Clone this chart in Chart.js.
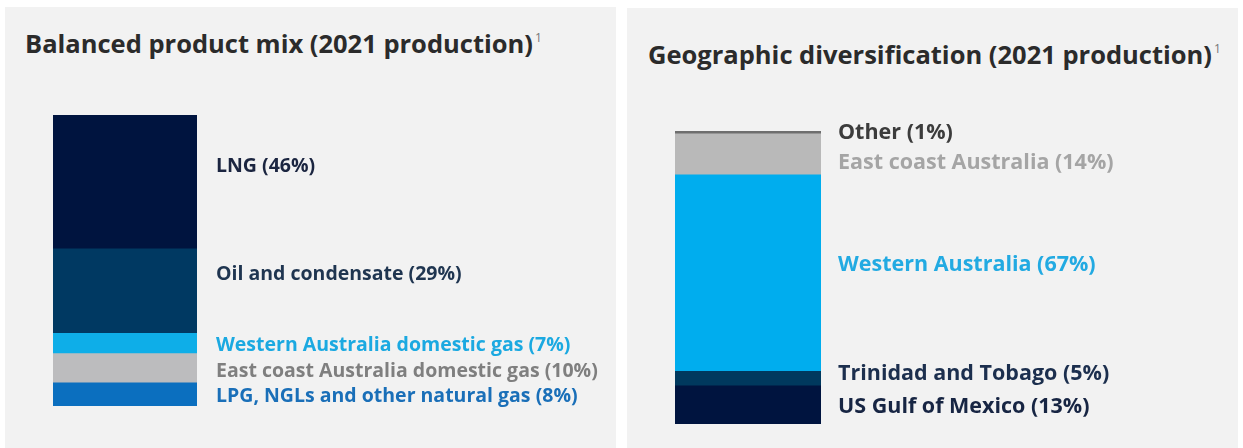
<!DOCTYPE html>
<html>
<head>
<meta charset="utf-8">
<script src="https://cdn.jsdelivr.net/npm/chart.js@4.4.1/dist/chart.umd.min.js"></script>
<style>
  html, body { margin: 0; padding: 0; background: #ffffff; }
  body { width: 1243px; height: 448px; position: relative; overflow: hidden; }
  .panel { position: absolute; background: #f2f2f2; }
  .panel h2 {
    position: absolute; margin: 0; white-space: nowrap;
    font-family: "Open Sans", sans-serif; font-weight: 700; font-size: 25.5px;
    color: #2b2b2b; letter-spacing: 0;
  }
  .panel h2 sup { font-size: 12px; font-weight: 400; color: #777; vertical-align: 11px; margin-left: 2px; }
  .panel canvas { position: absolute; left: 0; top: 0; }
</style>
</head>
<body>
<div class="panel" id="p1" style="left:5px; top:7px; width:611px; height:441px;">
  <h2 style="left:20px; top:19px;">Balanced product mix (2021 production)<sup>1</sup></h2>
  <canvas id="mix" width="611" height="441"></canvas>
</div>
<div class="panel" id="p2" style="left:627px; top:8px; width:611px; height:440px;">
  <h2 style="left:21px; top:29px;">Geographic diversification (2021 production)<sup>1</sup></h2>
  <canvas id="geo" width="611" height="440"></canvas>
</div>
<script>
// stacks are listed bottom segment first
const productNames = ['LPG, NGLs and other natural gas', 'East coast Australia domestic gas',
  'Western Australia domestic gas', 'Oil and condensate', 'LNG'];
const productShares = [8, 10, 7, 29, 46];

const regionNames = ['US Gulf of Mexico', 'Trinidad and Tobago', 'Western Australia',
  'East coast Australia', 'Other'];
const regionShares = [13, 5, 67, 14, 1];

const productFills = ['#0b6fbf', '#bcbcbe', '#0eaee8', '#003962', '#00143f'];
const productText = ['#1a6fb8', '#7f7f7f', '#1ba9e1', '#1f3550', '#1b2540'];
const productNudge = [2, 3, 2, -17, -15];

const regionFills = ['#00143f', '#00395e', '#00adee', '#b9b9b9', '#6e6e6e'];
const regionText = ['#172543', '#1c2f4e', '#22aae2', '#a5a5a5', '#3c3c3c'];
const regionNudge = [2, -5, -8, 8, 0];

// writes "name (x%)" beside each segment of the stack
const stackLabels = {
  id: 'stackLabels',
  afterDatasetsDraw(chart, args, opts) {
    const ctx = chart.ctx;
    const area = chart.chartArea;
    ctx.save();
    ctx.font = opts.font;
    ctx.textBaseline = 'middle';
    ctx.textAlign = 'left';
    chart.data.datasets.forEach((ds, i) => {
      const bar = chart.getDatasetMeta(i).data[0];
      const mid = (bar.y + bar.base) / 2;
      ctx.fillStyle = opts.colors[i];
      ctx.fillText(ds.label + ' (' + ds.data[0] + '%)', area.right + opts.gap, mid + opts.nudge[i]);
    });
    ctx.restore();
  }
};

function stackChart(id, names, shares, fills, textColors, nudge, labelFont, gap, padding) {
  return new Chart(document.getElementById(id), {
    type: 'bar',
    data: {
      labels: ['2021'],
      datasets: names.map((n, i) => ({
        label: n,
        data: [shares[i]],
        backgroundColor: fills[i],
        borderWidth: 0,
        barPercentage: 1,
        categoryPercentage: 1
      }))
    },
    options: {
      responsive: false,
      animation: false,
      devicePixelRatio: 1,
      layout: { padding: padding },
      scales: {
        x: { stacked: true, display: false },
        y: { stacked: true, display: false, min: 0, max: 100 }
      },
      plugins: {
        legend: { display: false },
        tooltip: { enabled: false },
        stackLabels: {
          font: labelFont,
          gap: gap,
          colors: textColors,
          nudge: nudge
        }
      }
    },
    plugins: [stackLabels]
  });
}

stackChart('mix', productNames, productShares, productFills, productText, productNudge,
  '700 19.5px "Open Sans", sans-serif', 19,
  { left: 48, top: 108, right: 419, bottom: 42 });
stackChart('geo', regionNames, regionShares, regionFills, regionText, regionNudge,
  '700 21.5px "Open Sans", sans-serif', 17,
  { left: 48, top: 123, right: 417, bottom: 24 });
</script>
</body>
</html>
